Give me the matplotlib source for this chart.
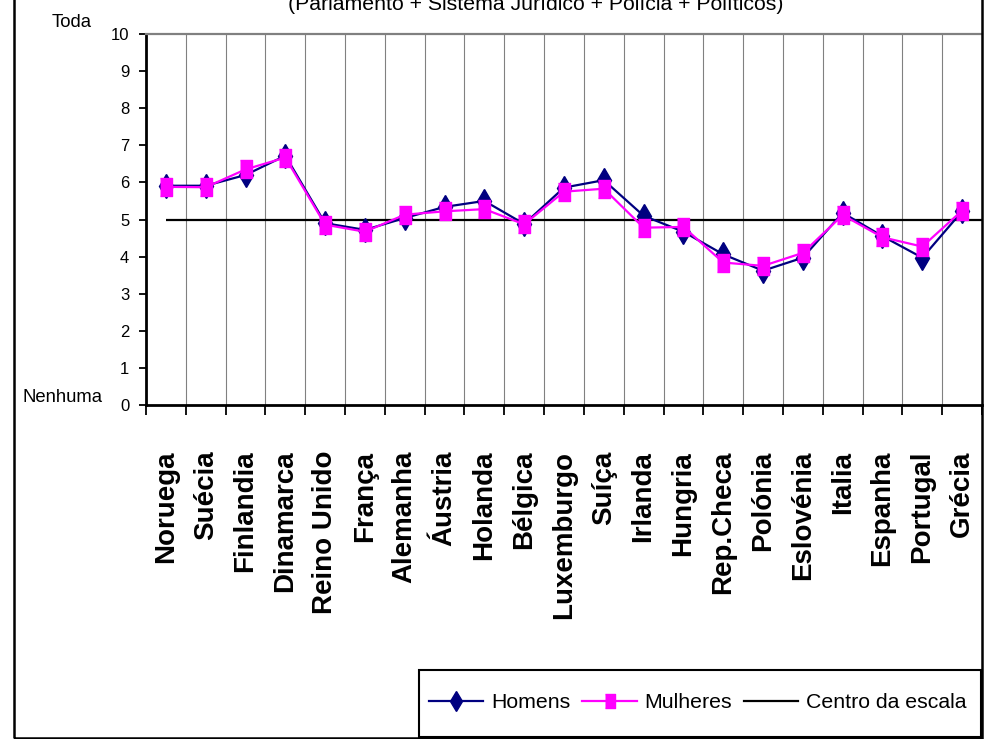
import matplotlib
matplotlib.use("Agg")
import matplotlib.pyplot as plt
from matplotlib.patches import Rectangle
import numpy as np

# Confidence in institutions, 0 (nenhuma) .. 10 (toda), by country and sex
paises = ["Noruega", "Suécia", "Finlandia", "Dinamarca", "Reino Unido", "França",
          "Alemanha", "Áustria", "Holanda", "Bélgica", "Luxemburgo", "Suíça",
          "Irlanda", "Hungria", "Rep.Checa", "Polónia", "Eslovénia", "Italia",
          "Espanha", "Portugal", "Grécia"]
homens = [5.91, 5.91, 6.20, 6.72, 4.90, 4.72, 5.04, 5.34, 5.50, 4.88, 5.86,
          6.06, 5.10, 4.67, 4.06, 3.62, 3.97, 5.18, 4.55, 3.97, 5.22]
mulheres = [5.88, 5.87, 6.35, 6.67, 4.86, 4.67, 5.13, 5.22, 5.28, 4.87, 5.75,
            5.83, 4.78, 4.80, 3.84, 3.75, 4.10, 5.12, 4.52, 4.27, 5.24]
centro = 5
y_ticks = list(range(0, 11))

W, H = 988, 739
FONT = ["Liberation Sans", "DejaVu Sans"]

fig = plt.figure(figsize=(W / 100, H / 100), dpi=100)
ax = fig.add_axes([146 / W, 1 - 405 / H, (982 - 146) / W, (405 - 34) / H])

x = np.arange(len(paises)) + 0.5
ax.set_xlim(0, len(paises))
ax.set_ylim(0, 10)

ax.hlines(centro, x[0], len(paises), color="black", lw=1.6, zorder=3)

diamante = "d"
retangulo = [(-0.34, -0.5), (0.34, -0.5), (0.34, 0.5), (-0.34, 0.5)]
ax.plot(x, homens, color="#000080", lw=1.6, marker=diamante, ms=12.5,
        mec="#000080", mfc="#000080", zorder=4, label="Homens")
ax.plot(x, mulheres, color="#FF00FF", lw=1.6, marker=retangulo, ms=13,
        mec="#FF00FF", mfc="#FF00FF", zorder=5, label="Mulheres")
ax.plot([], [], color="black", lw=1.6, label="Centro da escala")

# category boundaries carry the ticks and the vertical grid
ax.set_xticks(np.arange(len(paises) + 1))
ax.set_xticklabels([])
ax.grid(axis="x", color="#808080", lw=0.8)
ax.tick_params(axis="x", which="major", length=7, width=1.3, direction="out")
ax.set_xticks(x, minor=True)
ax.set_xticklabels(paises, minor=True, rotation=90, va="top", ha="center",
                   fontsize=20, fontweight="bold", family=FONT)
ax.tick_params(axis="x", which="minor", length=0, pad=33)

ax.set_yticks(y_ticks)
ax.set_yticklabels([str(v) for v in y_ticks], family=FONT, fontsize=12)
ax.tick_params(axis="y", length=5, width=1.3, direction="out", pad=7)

for s in ("left", "bottom"):
    ax.spines[s].set_linewidth(2)
ax.spines["top"].set_color("#808080")
ax.spines["top"].set_linewidth(1.6)
ax.spines["right"].set_visible(False)

fig.text(92 / W, 1 - 27 / H, "Toda", ha="right", va="baseline",
         family=FONT, fontsize=13.3)
fig.text(102 / W, 1 - 402 / H, "Nenhuma", ha="right", va="baseline",
         family=FONT, fontsize=13.3)
fig.text(536 / W, 1 - 10 / H,
         "(Parlamento + Sistema Jurídico + Polícia + Políticos)",
         ha="center", va="baseline", family=FONT, fontsize=15.3)

# outer frame (top edge runs off the canvas)
fig.add_artist(Rectangle((14 / W, 1 / H), (982 - 14) / W, 1.1,
                         transform=fig.transFigure, fill=False,
                         ec="black", lw=1.8, clip_on=False))
# legend box
fig.add_artist(Rectangle((419 / W, 1 - 737 / H), (981 - 419) / W, 67 / H,
                         transform=fig.transFigure, fill=False,
                         ec="black", lw=1.5))
fig.legend(loc="center", bbox_to_anchor=(698 / W, 1 - 703 / H), ncol=3,
           frameon=False, prop={"family": FONT, "size": 15.3},
           handlelength=2.55, handletextpad=0.38, columnspacing=0.56,
           borderpad=0, markerscale=0.8)

fig.savefig("out.png", dpi=100)
